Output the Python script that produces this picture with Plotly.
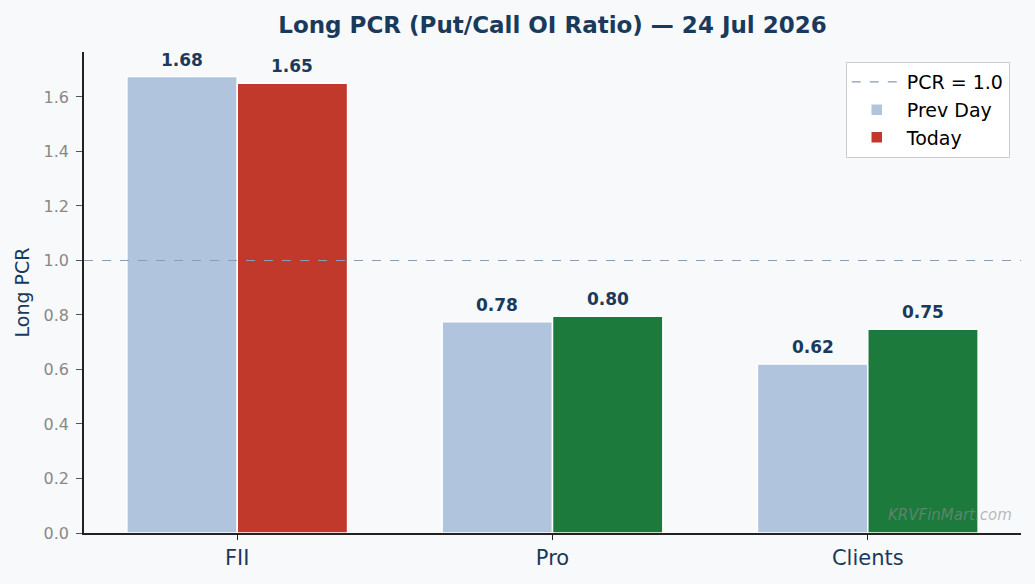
import plotly.graph_objects as go

categories = ["FII", "Pro", "Clients"]
prev_day = [1.675, 0.775, 0.62]
today = [1.65, 0.795, 0.748]
prev_labels = ["1.68", "0.78", "0.62"]
today_labels = ["1.65", "0.80", "0.75"]
today_colors = ["#c0392b", "#1b7a3c", "#1b7a3c"]
ref_level = 1.0

NAVY = "#1a3a5c"
BG = "#f8f9fb"
xpos = list(range(len(categories)))
bw = 0.35
xmin, xmax = -0.486, len(categories) - 1 + 0.486

fig = go.Figure()
fig.add_trace(go.Scatter(
    x=[xmin, xmax], y=[ref_level, ref_level], mode="lines",
    line=dict(color="#8a9bb3", width=1.2, dash="dash"),
    name="PCR = 1.0", hoverinfo="skip", legendgroup="a"))
fig.add_trace(go.Bar(
    x=xpos, y=prev_day, width=bw, offset=-bw, name="Prev Day", legendgroup="b",
    marker=dict(color="#b0c4de", line=dict(color="white", width=1.5))))
fig.add_trace(go.Bar(
    x=xpos, y=today, width=bw, offset=0, name="Today", legendgroup="c",
    marker=dict(color=today_colors, line=dict(color="white", width=1.5))))

annotations = []
for i, x in enumerate(xpos):
    for xv, yv, lab in ((x - bw / 2, prev_day[i], prev_labels[i]),
                        (x + bw / 2, today[i], today_labels[i])):
        annotations.append(dict(x=xv, y=yv, text="<b>" + lab + "</b>", xref="x", yref="y",
                                xanchor="center", yanchor="bottom", yshift=5, showarrow=False,
                                font=dict(family="DejaVu Sans", size=17, color=NAVY)))
annotations.append(dict(text="<i>KRVFinMart.com</i>", xref="paper", yref="paper",
                        x=0.992, y=0.015, xanchor="right", yanchor="bottom", showarrow=False,
                        font=dict(size=15, color="rgba(140,140,140,0.6)")))

fig.update_layout(
    width=1035, height=584,
    paper_bgcolor=BG, plot_bgcolor=BG,
    margin=dict(l=84, r=14, t=52, b=51),
    font=dict(family="DejaVu Sans", color=NAVY),
    title=dict(text="<b>Long PCR (Put/Call OI Ratio) — 24 Jul 2026</b>",
               xref="paper", x=0.5, xanchor="center", y=0.958, yanchor="middle",
               font=dict(size=23, color=NAVY)),
    barmode="overlay",
    showlegend=True,
    legend=dict(x=0.988, xanchor="right", y=0.979, yanchor="top", tracegroupgap=0,
                itemwidth=50,
                bgcolor="rgba(255,255,255,0.9)", bordercolor="#cccccc", borderwidth=1,
                font=dict(size=19, color="black")),
    xaxis=dict(range=[xmin, xmax], tickmode="array", tickvals=xpos, ticktext=categories,
               showgrid=False, zeroline=False, showline=True, linecolor="#222222", linewidth=1.5,
               ticks="outside", ticklen=5, tickcolor="#222222",
               tickfont=dict(size=21, color=NAVY)),
    yaxis=dict(range=[0, 1.765], tickmode="array",
               tickvals=[0, 0.2, 0.4, 0.6, 0.8, 1.0, 1.2, 1.4, 1.6],
               ticktext=["0.0", "0.2", "0.4", "0.6", "0.8", "1.0", "1.2", "1.4", "1.6"],
               showgrid=False, zeroline=False, showline=True, linecolor="#222222", linewidth=1.5,
               ticks="outside", ticklen=6, tickcolor="#555555", ticklabelstandoff=4,
               tickfont=dict(size=16, color="#888888"),
               title=dict(text="Long PCR", font=dict(size=19, color=NAVY), standoff=9)),
    annotations=annotations,
)

fig.write_html("out.html", config={"displayModeBar": False},
               post_script="document.body.style.margin='0';document.body.style.background='%s';" % BG)
